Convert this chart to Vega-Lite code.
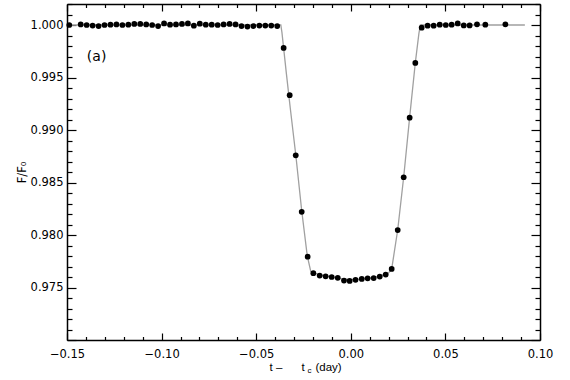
{
  "$schema": "https://vega.github.io/schema/vega-lite/v6.json",
  "width": 473,
  "height": 336,
  "autosize": {"type": "none"},
  "padding": {"left": 67, "top": 4, "right": 30, "bottom": 40},
  "background": "white",
  "config": {
    "view": {"stroke": null},
    "axis": {
      "labelFont": "DejaVu Sans", "titleFont": "DejaVu Sans",
      "labelColor": "black", "titleColor": "black",
      "domainColor": "black", "tickColor": "black",
      "domainWidth": 1.5, "tickWidth": 1.2, "grid": false,
      "labelFontSize": 11.5, "titleFontSize": 11.5, "titleFontWeight": "normal",
      "labelOverlap": false, "labelFlush": false
    }
  },
  "datasets": {
    "obs": [
      {"t": -0.1488, "f": 1.0000},
      {"t": -0.14276, "f": 1.00005},
      {"t": -0.13961, "f": 1.0000},
      {"t": -0.13646, "f": 0.99995},
      {"t": -0.13331, "f": 0.9999},
      {"t": -0.13017, "f": 1.0000},
      {"t": -0.12702, "f": 1.00003},
      {"t": -0.12387, "f": 1.00005},
      {"t": -0.12072, "f": 1.0000},
      {"t": -0.11758, "f": 1.00003},
      {"t": -0.11443, "f": 1.0001},
      {"t": -0.11128, "f": 1.0001},
      {"t": -0.10813, "f": 1.00005},
      {"t": -0.10499, "f": 1.0000},
      {"t": -0.10184, "f": 0.9999},
      {"t": -0.09869, "f": 1.00015},
      {"t": -0.09554, "f": 1.00003},
      {"t": -0.0924, "f": 1.00005},
      {"t": -0.08925, "f": 1.0001},
      {"t": -0.0861, "f": 1.00015},
      {"t": -0.08295, "f": 0.99993},
      {"t": -0.07981, "f": 1.00012},
      {"t": -0.07666, "f": 1.00003},
      {"t": -0.07351, "f": 1.00003},
      {"t": -0.07036, "f": 1.0000},
      {"t": -0.06722, "f": 1.00005},
      {"t": -0.06407, "f": 1.0001},
      {"t": -0.06092, "f": 1.00005},
      {"t": -0.05777, "f": 0.9999},
      {"t": -0.05463, "f": 0.99985},
      {"t": -0.05148, "f": 0.9999},
      {"t": -0.04833, "f": 0.99995},
      {"t": -0.04518, "f": 0.99995},
      {"t": -0.04204, "f": 0.99995},
      {"t": -0.03889, "f": 0.9999},
      {"t": -0.0355, "f": 0.99782},
      {"t": -0.0323, "f": 0.99332},
      {"t": -0.0291, "f": 0.98759},
      {"t": -0.02595, "f": 0.98221},
      {"t": -0.0228, "f": 0.97794},
      {"t": -0.0198, "f": 0.97636},
      {"t": -0.01645, "f": 0.97614},
      {"t": -0.0133, "f": 0.97606},
      {"t": -0.0101, "f": 0.976},
      {"t": -0.0069, "f": 0.97592},
      {"t": -0.0036, "f": 0.97566},
      {"t": -0.0006, "f": 0.97563},
      {"t": 0.0025, "f": 0.97573},
      {"t": 0.0058, "f": 0.97582},
      {"t": 0.0089, "f": 0.97588},
      {"t": 0.0121, "f": 0.9759},
      {"t": 0.0153, "f": 0.97604},
      {"t": 0.01845, "f": 0.97623},
      {"t": 0.0216, "f": 0.97677},
      {"t": 0.0248, "f": 0.98047},
      {"t": 0.02795, "f": 0.9855},
      {"t": 0.0311, "f": 0.99117},
      {"t": 0.0341, "f": 0.99639},
      {"t": 0.03747, "f": 0.99974},
      {"t": 0.0406, "f": 0.99993},
      {"t": 0.0438, "f": 0.99993},
      {"t": 0.047, "f": 1.00003},
      {"t": 0.0502, "f": 1.0},
      {"t": 0.0533, "f": 1.00003},
      {"t": 0.0565, "f": 1.00015},
      {"t": 0.0597, "f": 0.99996},
      {"t": 0.0628, "f": 0.99996},
      {"t": 0.0667, "f": 1.00006},
      {"t": 0.0711, "f": 1.00003},
      {"t": 0.0817, "f": 1.00006}
    ],
    "model": [
      {"t": -0.15, "f": 1.0},
      {"t": -0.037, "f": 1.0},
      {"t": -0.0364, "f": 0.9993},
      {"t": -0.0355, "f": 0.9978},
      {"t": -0.034, "f": 0.9953},
      {"t": -0.032, "f": 0.9921},
      {"t": -0.029, "f": 0.9875},
      {"t": -0.026, "f": 0.9824},
      {"t": -0.023, "f": 0.978},
      {"t": -0.0212, "f": 0.97655},
      {"t": -0.02, "f": 0.9764},
      {"t": -0.015, "f": 0.97615},
      {"t": -0.01, "f": 0.976},
      {"t": -0.005, "f": 0.97585},
      {"t": 0.0, "f": 0.97575},
      {"t": 0.005, "f": 0.9758},
      {"t": 0.01, "f": 0.9759},
      {"t": 0.015, "f": 0.97605},
      {"t": 0.02, "f": 0.9764},
      {"t": 0.0216, "f": 0.97675},
      {"t": 0.0248, "f": 0.9805},
      {"t": 0.028, "f": 0.9856},
      {"t": 0.0311, "f": 0.9912},
      {"t": 0.0341, "f": 0.9964},
      {"t": 0.036, "f": 0.9992},
      {"t": 0.0368, "f": 1.0},
      {"t": 0.092, "f": 1.0}
    ]
  },
  "layer": [
    {
      "data": {"name": "model"},
      "mark": {"type": "line", "color": "#a0a0a0", "strokeWidth": 1.3},
      "encoding": {
        "x": {
          "field": "t", "type": "quantitative",
          "scale": {"domain": [-0.15, 0.1], "nice": false, "zero": false},
          "axis": {
            "orient": "bottom",
            "values": [-0.15,-0.14,-0.13,-0.12,-0.11,-0.1,-0.09,-0.08,-0.07,-0.06,-0.05,-0.04,-0.03,-0.02,-0.01,0,0.01,0.02,0.03,0.04,0.05,0.06,0.07,0.08,0.09,0.1],
            "tickSize": {"condition": {"test": "abs(datum.value*20-round(datum.value*20))<0.01", "value": -7}, "value": -3.5},
            "labelExpr": "abs(datum.value*20-round(datum.value*20))<0.01 ? format(datum.value,'.2f') : ''",
            "labelPadding": 15,
            "title": "t –\u00a0\u00a0\u00a0\u00a0\u00a0\u00a0t",
            "titleFont": "Liberation Sans", "titleFontSize": 11.5,
            "titleAlign": "left", "titleX": 202, "titleY": 30, "titleBaseline": "alphabetic"
          }
        },
        "y": {
          "field": "f", "type": "quantitative",
          "scale": {"domain": [0.97, 1.002], "nice": false, "zero": false},
          "axis": {
            "orient": "left",
            "values": [0.970,0.971,0.972,0.973,0.974,0.975,0.976,0.977,0.978,0.979,0.980,0.981,0.982,0.983,0.984,0.985,0.986,0.987,0.988,0.989,0.990,0.991,0.992,0.993,0.994,0.995,0.996,0.997,0.998,0.999,1.000,1.001,1.002],
            "tickSize": {"condition": {"test": "abs(datum.value*200-round(datum.value*200))<0.01", "value": -9}, "value": -5},
            "labelExpr": "abs(datum.value*200-round(datum.value*200))<0.01 && datum.value > 0.9705 ? format(datum.value,'.3f') : ''",
            "labelPadding": 13,
            "title": "F/F₀",
            "titlePadding": 3
          }
        }
      }
    },
    {
      "data": {"name": "obs"},
      "mark": {"type": "circle", "color": "black", "opacity": 1, "size": 33},
      "encoding": {
        "x": {
          "field": "t", "type": "quantitative",
          "axis": {
            "orient": "top",
            "values": [-0.15,-0.14,-0.13,-0.12,-0.11,-0.1,-0.09,-0.08,-0.07,-0.06,-0.05,-0.04,-0.03,-0.02,-0.01,0,0.01,0.02,0.03,0.04,0.05,0.06,0.07,0.08,0.09,0.1],
            "tickSize": {"condition": {"test": "abs(datum.value*20-round(datum.value*20))<0.01", "value": -7}, "value": -3.5},
            "labels": false,
            "title": "c",
            "titleFont": "Liberation Sans",
            "titleFontSize": 8,
            "titleAlign": "left", "titleX": 240, "titleY": 368, "titleBaseline": "alphabetic"
          }
        },
        "y": {
          "field": "f", "type": "quantitative",
          "axis": {
            "orient": "right",
            "values": [0.970,0.971,0.972,0.973,0.974,0.975,0.976,0.977,0.978,0.979,0.980,0.981,0.982,0.983,0.984,0.985,0.986,0.987,0.988,0.989,0.990,0.991,0.992,0.993,0.994,0.995,0.996,0.997,0.998,0.999,1.000,1.001,1.002],
            "tickSize": {"condition": {"test": "abs(datum.value*200-round(datum.value*200))<0.01", "value": -9}, "value": -5},
            "labels": false,
            "title": "(day)",
            "titleFont": "Liberation Sans", "titleFontSize": 11.5,
            "titleAngle": 0, "titleAlign": "left", "titleBaseline": "alphabetic",
            "titleX": -225, "titleY": 366
          }
        }
      }
    },
    {
      "data": {"values": [{"t": -0.1395, "f": 0.99695, "label": "(a)"}]},
      "mark": {"type": "text", "align": "left", "baseline": "middle", "fontSize": 14, "font": "DejaVu Sans", "color": "black"},
      "encoding": {
        "x": {"field": "t", "type": "quantitative", "axis": null},
        "y": {"field": "f", "type": "quantitative", "axis": null},
        "text": {"field": "label"}
      }
    }
  ],
  "resolve": {"axis": {"x": "independent", "y": "independent"}}
}
